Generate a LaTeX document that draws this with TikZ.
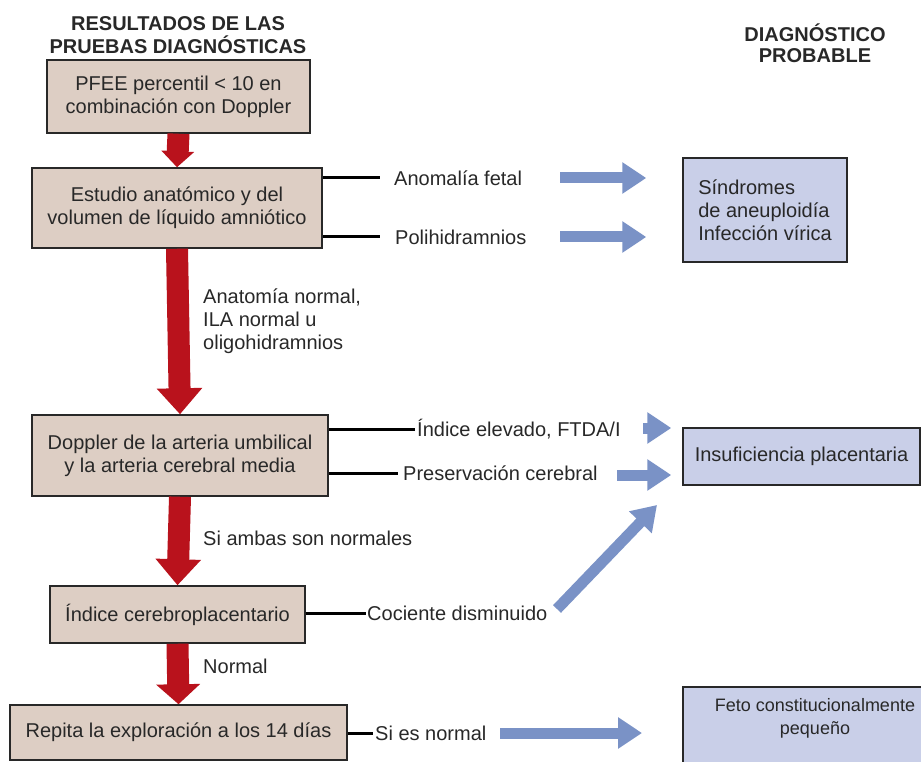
\documentclass[tikz,border=0pt]{standalone}
\usepackage{fontspec}
\setmainfont{Liberation Sans}
\usetikzlibrary{arrows.meta}

\definecolor{boxtan}{RGB}{221,206,196}
\definecolor{boxblue}{RGB}{201,207,232}
\definecolor{arrowred}{RGB}{185,18,28}
\definecolor{arrowblue}{RGB}{122,146,198}
\definecolor{inkgray}{RGB}{40,40,40}

\tikzset{
  testbox/.style={draw=inkgray, line width=1.5pt, fill=boxtan, align=center, inner sep=0pt},
  diagbox/.style={draw=inkgray, line width=1.5pt, fill=boxblue, inner sep=0pt},
  redarrow/.style={draw=arrowred, line width=22pt, -{Triangle[width=44pt,length=26pt]}},
  bluearrow/.style={draw=arrowblue, line width=11pt, -{Triangle[width=30pt,length=24pt]}},
  result/.style={anchor=west, inner ysep=1pt},
  branch/.style={black, line width=3pt},
  header/.style={font=\fontsize{20}{23}\selectfont\bfseries, align=center},
}

\begin{document}
\begin{tikzpicture}[x=1pt, y=-1pt, font=\fontsize{20}{23}\selectfont, text=inkgray]
    \useasboundingbox (0,0) rectangle (921,762);
    \clip (0,0) rectangle (921,762);

    % headers
    \node[header] (hdrtests) at (178,35) {RESULTADOS DE LAS\\PRUEBAS DIAGNÓSTICAS};
    \node[header, font=\fontsize{20}{21}\selectfont\bfseries] (hdrdiag) at (815,43) {DIAGNÓSTICO\\PROBABLE};

    % test boxes
    \node[testbox, minimum width=263pt, minimum height=73pt] (pfee) at (178.5,96.5) {PFEE percentil < 10 en\\combinación con Doppler};
    \node[testbox, minimum width=290pt, minimum height=80pt] (anat) at (177,208) {Estudio anatómico y del\\volumen de líquido amniótico};
    \node[testbox, minimum width=296pt, minimum height=81pt] (doppler) at (180,455.5) {Doppler de la arteria umbilical\\y la arteria cerebral media};
    \node[testbox, minimum width=255pt, minimum height=57pt] (icp) at (177.5,614.5) {Índice cerebroplacentario};
    \node[testbox, minimum width=337pt, minimum height=55pt] (repeat) at (178.5,732.5) {Repita la exploración a los 14 días};

    % diagnosis boxes
    \node[diagbox, minimum width=164pt, minimum height=104pt, align=left] (aneu) at (765,210) {Síndromes\\de aneuploidía\\Infección vírica};
    \node[diagbox, minimum width=237pt, minimum height=57pt] (placenta) at (801.5,456.5) {Insuficiencia placentaria};
    \coordinate (smallbox) at (683,687);
    \draw[diagbox] (smallbox) rectangle (951,790);
    \node[align=center, font=\fontsize{18}{23}\selectfont] (small) at (815,718) {Feto constitucionalmente\\pequeño};

    % red arrows
    \draw[redarrow, -{Triangle[width=32pt,length=16pt]}] (pfee.south) -- (anat.north);
    \draw[redarrow] (anat.south) -- (doppler.north);
    \draw[redarrow] (doppler.south) -- (icp.north);
    \draw[redarrow, -{Triangle[width=43pt,length=20pt]}] (icp.south) -- (repeat.north);
    \node[anchor=west, align=left, inner sep=0pt] (normanat) at (203,321) {Anatomía normal,\\ILA normal u\\oligohidramnios};
    \node[anchor=west, inner sep=0pt] (bothnorm) at (203,538) {Si ambas son normales};
    \node[anchor=west, inner sep=0pt] (normal) at (203,666) {Normal};

    % branch results
    \node[result, inner xsep=14pt] (anom) at (380,178) {Anomalía fetal};
    \node[result, inner xsep=15pt] (poly) at (380,237) {Polihidramnios};
    \node[result, inner xsep=2pt] (elev) at (415,429) {Índice elevado, FTDA/I};
    \node[result, inner xsep=5pt] (pres) at (398,473) {Preservación cerebral};
    \node[result, inner xsep=1pt] (ratio) at (366,613) {Cociente disminuido};
    \node[result, inner xsep=2pt] (ifnorm) at (373,733) {Si es normal};
    \draw[branch] (anat.east |- anom.west) -- (anom.west);
    \draw[branch] (anat.east |- poly.west) -- (poly.west);
    \draw[branch] (doppler.east |- elev.west) -- (elev.west);
    \draw[branch] (doppler.east |- pres.west) -- (pres.west);
    \draw[branch] (icp.east |- ratio.west) -- (ratio.west);
    \draw[branch] (repeat.east |- ifnorm.west) -- (ifnorm.west);

    % blue arrows
    \coordinate (anomtail) at (560,178);
    \coordinate (polytail) at (560,237);
    \coordinate (elevtail) at (643,428);
    \coordinate (prestail) at (617,475);
    \coordinate (ratiotail) at (557,609);
    \coordinate (ratiohead) at (657,505);
    \coordinate (normtail) at (500,733);
    \draw[bluearrow, shorten >=36pt] (anomtail) -- (anomtail -| aneu.west);
    \draw[bluearrow, shorten >=36pt] (polytail) -- (polytail -| aneu.west);
    \draw[bluearrow, shorten >=11pt] (elevtail) -- (elevtail -| placenta.west);
    \draw[bluearrow, shorten >=11pt] (prestail) -- (prestail -| placenta.west);
    \draw[bluearrow] (ratiotail) -- (ratiohead);
    \draw[bluearrow, shorten >=41pt] (normtail) -- (normtail -| smallbox);
\end{tikzpicture}
\end{document}
